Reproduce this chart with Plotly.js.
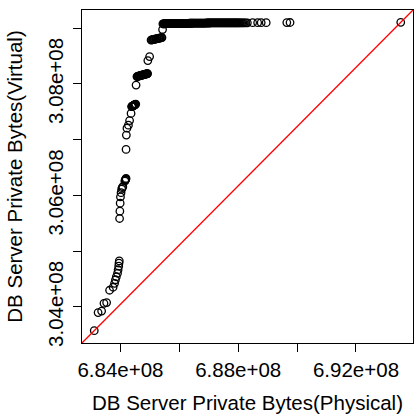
<!DOCTYPE html>
<html>
<head>
<meta charset="utf-8">
<script src="https://cdn.plot.ly/plotly-3.0.1.min.js"></script>
<style>
  html, body { margin: 0; padding: 0; background: #ffffff; }
  #plot { width: 415px; height: 419px; }
</style>
</head>
<body>
<div id="plot"></div>
<script>
// Sorted private-bytes samples (in millions of bytes), paired as quantiles.
const physicalM = [
  683.11, 683.24, 683.36, 683.44, 683.53, 683.63, 683.75, 683.80, 683.83, 683.86,
  683.90, 683.92, 683.94, 683.95, 683.96,
  683.97, 683.98, 683.99, 684.00, 684.02, 684.04, 684.06, 684.08, 684.15, 684.16,
  684.17, 684.18, 684.19,
  684.19, 684.20, 684.22, 684.27, 684.31, 684.36,
  684.38, 684.39, 684.40, 684.41, 684.42, 684.43, 684.44, 684.45, 684.46, 684.47,
  684.48, 684.49, 684.50, 684.52,
  684.53,
  684.56, 684.58, 684.60, 684.62, 684.64, 684.66, 684.68, 684.70, 684.72, 684.74,
  684.76, 684.78, 684.80, 684.82, 684.84, 684.86, 684.88, 684.90, 684.91, 684.92,
  684.93, 684.99,
  685.04, 685.06, 685.09, 685.11, 685.14, 685.16, 685.19, 685.21, 685.24, 685.26,
  685.29, 685.31, 685.34, 685.36, 685.39, 685.41,
  685.43,
  685.44, 685.46, 685.48, 685.50, 685.52, 685.54, 685.56, 685.58, 685.60, 685.62,
  685.64, 685.66, 685.68, 685.70, 685.73, 685.75, 685.77, 685.79, 685.82, 685.84,
  685.86, 685.89, 685.91, 685.93, 685.96, 685.98, 686.01, 686.03, 686.06, 686.08,
  686.11, 686.13, 686.16, 686.18, 686.21, 686.24, 686.26, 686.29, 686.32, 686.34,
  686.37, 686.40, 686.43, 686.45, 686.48, 686.51, 686.54, 686.57, 686.60, 686.63,
  686.66, 686.69, 686.72, 686.75, 686.78, 686.81, 686.84, 686.87, 686.90, 686.93,
  686.96, 686.99, 687.02, 687.05, 687.08, 687.11, 687.14, 687.17, 687.20, 687.23,
  687.26, 687.29, 687.32, 687.35, 687.38, 687.41, 687.44, 687.47, 687.50, 687.53,
  687.56, 687.59, 687.62, 687.65, 687.68, 687.71, 687.74, 687.77, 687.80, 687.83,
  687.86, 687.89, 687.92, 687.95, 687.98, 688.01, 688.04, 688.08, 688.12, 688.16,
  688.20, 688.25, 688.31,
  688.49, 688.66, 688.78, 688.95, 689.65, 689.76, 693.52
];
const virtualM = [
  303.575, 303.900, 303.926, 304.066, 304.079, 304.300, 304.354, 304.425, 304.488, 304.542,
  304.605, 304.668, 304.731, 304.785, 304.826,
  305.587, 305.718, 305.862, 305.975, 306.050, 306.113, 306.140, 306.158, 306.257, 306.275,
  306.285, 306.293, 306.305,
  306.826, 307.083, 307.208, 307.262, 307.343, 307.472,
  307.594, 307.597, 307.600, 307.603, 307.606, 307.609, 307.612, 307.615, 307.618, 307.621,
  307.625, 307.629, 307.633, 307.639,
  307.980,
  308.133, 308.136, 308.139, 308.142, 308.145, 308.148, 308.151, 308.154, 308.157, 308.160,
  308.163, 308.166, 308.169, 308.172, 308.175, 308.178, 308.180, 308.182, 308.185, 308.187,
  308.420, 308.492,
  308.788, 308.791, 308.794, 308.797, 308.800, 308.803, 308.806, 308.809, 308.812, 308.815,
  308.818, 308.821, 308.824, 308.827, 308.830, 308.833,
  308.977,
  309.080, 309.080, 309.080, 309.081, 309.081, 309.081, 309.081, 309.082, 309.082, 309.082,
  309.082, 309.083, 309.083, 309.083, 309.083, 309.084, 309.084, 309.084, 309.084, 309.085,
  309.085, 309.085, 309.085, 309.086, 309.086, 309.086, 309.086, 309.087, 309.087, 309.087,
  309.087, 309.088, 309.088, 309.088, 309.088, 309.089, 309.089, 309.089, 309.089, 309.090,
  309.090, 309.090, 309.090, 309.090, 309.091, 309.091, 309.091, 309.091, 309.091, 309.092,
  309.092, 309.092, 309.092, 309.092, 309.093, 309.093, 309.093, 309.093, 309.093, 309.094,
  309.094, 309.094, 309.094, 309.094, 309.095, 309.095, 309.095, 309.095, 309.095, 309.095,
  309.096, 309.096, 309.096, 309.096, 309.096, 309.096, 309.097, 309.097, 309.097, 309.097,
  309.097, 309.097, 309.097, 309.098, 309.098, 309.098, 309.098, 309.098, 309.098, 309.098,
  309.098, 309.098, 309.098, 309.098, 309.098, 309.098, 309.098, 309.098, 309.098, 309.098,
  309.098, 309.098, 309.098,
  309.099, 309.099, 309.100, 309.100, 309.102, 309.103, 309.106
];

const xTickVals = [6.84e8, 6.86e8, 6.88e8, 6.90e8, 6.92e8];
const xTickText = ['6.84e+08', '', '6.88e+08', '', '6.92e+08'];
const yTickVals = [3.04e8, 3.05e8, 3.06e8, 3.07e8, 3.08e8, 3.09e8];
const yTickText = ['3.04e+08', '', '3.06e+08', '', '3.08e+08', ''];

const xLabel = 'DB Server Private Bytes(Physical)';
const yLabel = 'DB Server Private Bytes(Virtual)';

const physical = physicalM.map(v => v * 1e6);
const virtual = virtualM.map(v => v * 1e6);

// Axis limits padded by 4% on each side, as in R's default plot.
function paddedRange(arr) {
  const lo = Math.min(...arr), hi = Math.max(...arr);
  const pad = 0.04 * (hi - lo);
  return [lo - pad, hi + pad];
}
const xr = paddedRange(physical);
const yr = paddedRange(virtual);

// Reference line through the lowest and highest quantile pair, extended to the frame.
const x0 = Math.min(...physical), x1 = Math.max(...physical);
const y0 = Math.min(...virtual), y1 = Math.max(...virtual);
const slope = (y1 - y0) / (x1 - x0);
const lineX = [xr[0], xr[1]];
const lineY = lineX.map(x => y0 + slope * (x - x0));

const font = { family: 'Liberation Sans, Arial, sans-serif', color: '#000000' };
const fontSize = 20.5;

const traces = [
  {
    x: physical, y: virtual, type: 'scatter', mode: 'markers',
    marker: { symbol: 'circle-open', size: 7.5, color: '#000000', line: { width: 1.3, color: '#000000' } },
    hoverinfo: 'skip'
  },
  {
    x: lineX, y: lineY, type: 'scatter', mode: 'lines',
    line: { color: '#ff0000', width: 1.3 },
    hoverinfo: 'skip'
  }
];

const axisCommon = {
  showgrid: false, zeroline: false,
  showline: true, mirror: true, linecolor: '#000000', linewidth: 1,
  ticks: 'outside', ticklen: 8, tickwidth: 1, tickcolor: '#000000',
  tickfont: Object.assign({ size: fontSize }, font)
};

const layout = {
  width: 415, height: 419,
  margin: { l: 82, r: 2, t: 10, b: 76 },
  paper_bgcolor: '#ffffff', plot_bgcolor: '#ffffff',
  showlegend: false,
  xaxis: Object.assign({}, axisCommon, {
    range: xr, tickmode: 'array', tickvals: xTickVals, ticktext: xTickText,
    title: { text: xLabel, font: Object.assign({ size: fontSize }, font), standoff: 16 }
  }),
  yaxis: Object.assign({}, axisCommon, {
    range: yr, tickmode: 'array', tickvals: yTickVals, ticktext: yTickText,
    tickangle: -90, ticklabelstandoff: 2,
    title: { text: yLabel, font: Object.assign({ size: fontSize }, font), standoff: 15 }
  })
};

Plotly.newPlot('plot', traces, layout, { staticPlot: true, displayModeBar: false });
</script>
</body>
</html>
